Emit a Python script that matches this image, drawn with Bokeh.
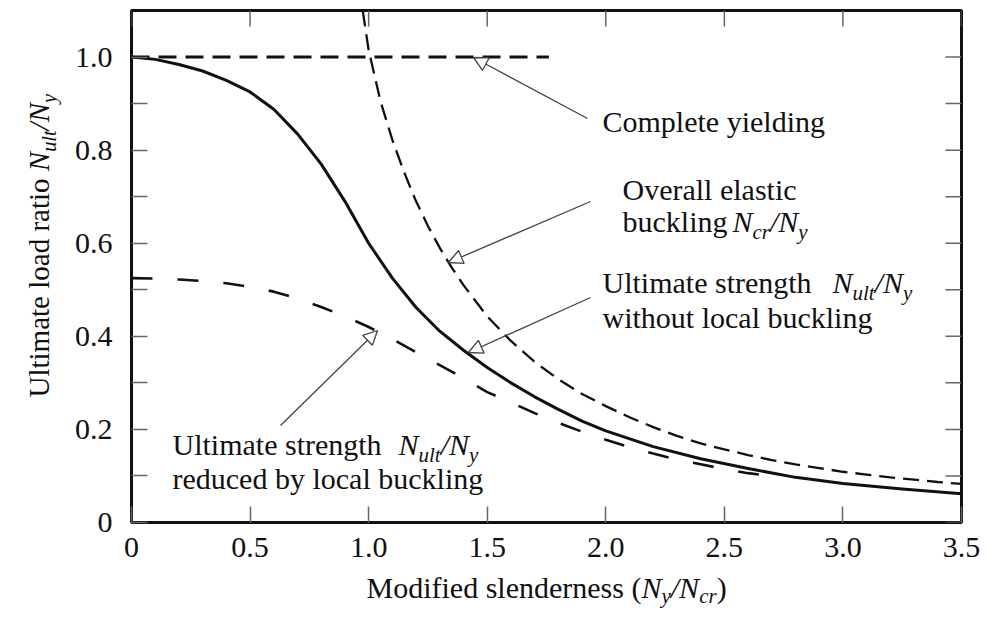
import math
from bokeh.plotting import figure
from bokeh.layouts import row, column
from bokeh.models import Label, Arrow, NormalHead, FixedTicker, Range1d
from bokeh.embed import file_html
from bokeh.resources import INLINE

# ---------------- data ----------------
x_ticks = [0, 0.5, 1.0, 1.5, 2.0, 2.5, 3.0, 3.5]
x_tick_labels = ["0", "0.5", "1.0", "1.5", "2.0", "2.5", "3.0", "3.5"]
y_ticks = [0, 0.2, 0.4, 0.6, 0.8, 1.0]
y_tick_labels = ["0", "0.2", "0.4", "0.6", "0.8", "1.0"]
y_minor_ticks = [0.1, 0.3, 0.5, 0.7, 0.9]

# complete yielding
yield_x = [0.0, 1.76]
yield_y = [1.0, 1.0]

# overall elastic buckling Ncr/Ny
elastic_x = [0.975, 1.0, 1.05, 1.1, 1.15, 1.2, 1.25, 1.3, 1.35, 1.4, 1.5, 1.6, 1.7,
             1.8, 1.9, 2.0, 2.1, 2.2, 2.3, 2.4, 2.5, 2.6, 2.7, 2.8, 2.9, 3.0, 3.1,
             3.2, 3.3, 3.4, 3.5]
elastic_y = [1.1, 1.015, 0.905, 0.822, 0.752, 0.69, 0.637, 0.59, 0.548, 0.51, 0.443,
             0.39, 0.345, 0.308, 0.276, 0.25, 0.226, 0.205, 0.186, 0.17, 0.157, 0.145,
             0.134, 0.125, 0.117, 0.109, 0.103, 0.097, 0.092, 0.087, 0.083]

# ultimate strength without local buckling
ult_x = [0.0, 0.1, 0.2, 0.3, 0.4, 0.5, 0.6, 0.7, 0.8, 0.9, 1.0, 1.1, 1.2, 1.3, 1.4,
         1.5, 1.6, 1.7, 1.8, 1.9, 2.0, 2.2, 2.4, 2.6, 2.8, 3.0, 3.25, 3.5]
ult_y = [1.0, 0.995, 0.984, 0.97, 0.95, 0.925, 0.888, 0.835, 0.77, 0.69, 0.6, 0.525,
         0.462, 0.411, 0.37, 0.333, 0.30, 0.27, 0.243, 0.218, 0.197, 0.163, 0.137,
         0.116, 0.097, 0.084, 0.072, 0.062]

# ultimate strength reduced by local buckling
local_x = [0.0, 0.1, 0.2, 0.3, 0.4, 0.5, 0.6, 0.7, 0.8, 0.9, 1.0, 1.1, 1.2, 1.3, 1.4,
           1.5, 1.6, 1.7, 1.8, 1.9, 2.0, 2.1, 2.2, 2.3, 2.4, 2.5, 2.6, 2.72]
local_y = [0.525, 0.524, 0.522, 0.519, 0.514, 0.506, 0.496, 0.481, 0.463, 0.443, 0.42,
           0.394, 0.366, 0.338, 0.31, 0.28, 0.258, 0.235, 0.214, 0.195, 0.178, 0.162,
           0.148, 0.135, 0.125, 0.115, 0.106, 0.098]

# ---------------- layout constants (canvas pixels) ----------------
X0, X1 = 0.0, 3.5
Y0, Y1 = 0.0, 1.1
TOTAL_W, TOTAL_H = 980, 608
LW = 70                      # width of the left strip holding the y title
MW = TOTAL_W - LW            # main figure width
MH = 570                     # main figure height
BH = TOTAL_H - MH            # bottom strip holding the x title
FL, FR, FT, FB = 131, 961, 10, 522   # frame edges in canvas pixels

INK = "#111111"
TICK = "#666666"
SERIF = "Liberation Serif"
BASE_CORR = 0.36             # em shift that puts the drawn baseline where intended

# ---------------- main figure ----------------
p = figure(width=MW, height=MH, output_backend="svg", toolbar_location=None,
           x_range=Range1d(X0, X1), y_range=Range1d(Y0, Y1),
           min_border_left=FL - LW, min_border_right=TOTAL_W - FR,
           min_border_top=FT, min_border_bottom=MH - FB)
p.xgrid.grid_line_color = None
p.ygrid.grid_line_color = None
p.outline_line_color = INK
p.outline_line_width = 3
p.background_fill_color = "white"
p.border_fill_color = "white"

def style_axis(ax, ticker, labels, standoff):
    ax.ticker = ticker
    ax.axis_line_color = None
    ax.major_tick_in = 16
    ax.major_tick_out = 0
    ax.minor_tick_in = 16
    ax.minor_tick_out = 0
    ax.major_tick_line_color = TICK
    ax.minor_tick_line_color = TICK
    ax.major_tick_line_width = 1.5
    ax.minor_tick_line_width = 1.5
    ax.major_label_text_font = SERIF
    ax.major_label_text_font_size = "30px"
    ax.major_label_text_color = INK
    ax.major_label_overrides = labels
    ax.major_label_standoff = standoff

style_axis(p.xaxis[0], FixedTicker(ticks=x_ticks, minor_ticks=[]),
           {t: s for t, s in zip(x_ticks, x_tick_labels)}, 15)
style_axis(p.yaxis[0], FixedTicker(ticks=y_ticks, minor_ticks=y_minor_ticks),
           {t: s for t, s in zip(y_ticks, y_tick_labels)}, 19)

# ticks on the top and right edges (inward)
p.ray(x=x_ticks, y=[Y1] * len(x_ticks), length=16, length_units="screen",
      angle=-math.pi / 2, line_color=TICK, line_width=1.5)
right_ticks = sorted(y_ticks + y_minor_ticks)
p.ray(x=[X1] * len(right_ticks), y=right_ticks, length=16, length_units="screen",
      angle=math.pi, line_color=TICK, line_width=1.5)

# ---------------- curves ----------------
p.line(yield_x, yield_y, line_color=INK, line_width=3, line_dash="18 9")
p.line(elastic_x, elastic_y, line_color=INK, line_width=2.3, line_dash="16 8")
p.line(local_x, local_y, line_color=INK, line_width=2.6, line_dash="21 25")
p.line(ult_x, ult_y, line_color=INK, line_width=3, line_join="round")

# ---------------- text helpers ----------------
def dx(px):
    return X0 + (px - FL) / (FR - FL) * (X1 - X0)

def dy(py):
    return Y0 + (FB - py) / (FB - FT) * (Y1 - Y0)

W_REG = {' ': 250, '(': 333, ')': 333, '/': 278, '.': 250, 'a': 444, 'b': 500,
         'c': 444, 'd': 500, 'e': 444, 'f': 333, 'g': 500, 'h': 500, 'i': 278,
         'k': 500, 'l': 278, 'm': 778, 'n': 500, 'o': 500, 'p': 500, 'r': 333,
         's': 389, 't': 278, 'u': 500, 'v': 500, 'w': 722, 'y': 500, 'C': 667,
         'M': 889, 'O': 722, 'U': 722, 'N': 722}
W_IT = {'N': 667, 'u': 500, 'l': 278, 't': 278, 'y': 444, 'c': 444, 'r': 389, '/': 278}

def tw(s, size, italic):
    tab = W_IT if italic else W_REG
    return sum(tab.get(ch, 500) for ch in s) * size / 1000.0

def rich(fig, segments, x_px, y_px, size, vertical=False, mapx=None, mapy=None,
         sub_drop=0.22):
    """segments: (text, kind); kind 'r' roman, 'i' italic, 's' italic subscript."""
    pos = 0.0
    for text, kind in segments:
        italic = kind in ("i", "s")
        fs = size * 0.7 if kind == "s" else size
        shift = (size * sub_drop if kind == "s" else 0.0) - BASE_CORR * fs
        if vertical:
            lx, ly, ang = x_px + shift, y_px - pos, math.pi / 2
        else:
            lx, ly, ang = x_px + pos, y_px + shift, 0.0
        fig.add_layout(Label(x=mapx(lx), y=mapy(ly), text=text, text_font=SERIF,
                             text_font_style="italic" if italic else "normal",
                             text_font_size=f"{fs:.1f}px", text_color=INK,
                             text_align="left", text_baseline="alphabetic",
                             angle=ang))
        pos += tw(text, fs, italic)

def main_text(segments, x_px, y_px, size=30):
    rich(p, segments, x_px, y_px, size, mapx=dx, mapy=dy)

MATH_ULT = [("N", "i"), ("ult", "s"), ("/", "i"), ("N", "i"), ("y", "s")]
MATH_CR = [("N", "i"), ("cr", "s"), ("/", "i"), ("N", "i"), ("y", "s")]

main_text([("Complete yielding", "r")], 602, 132)
main_text([("Overall elastic", "r")], 622, 200)
main_text([("buckling", "r")], 622, 232)
main_text(MATH_CR, 732, 232)
main_text([("Ultimate strength", "r")], 602, 293)
main_text(MATH_ULT, 832, 293)
main_text([("without local buckling", "r")], 602, 328)
main_text([("Ultimate strength", "r")], 172, 455)
main_text(MATH_ULT, 398, 455)
main_text([("reduced by local buckling", "r")], 172, 489)

# arrows (tail -> tip, canvas pixels)
arrows = [((587, 118), (473, 57)),
          ((590, 201), (448, 262)),
          ((590, 297), (468, 352)),
          ((280, 425), (377, 330))]
for (tx, ty), (hx, hy) in arrows:
    p.add_layout(Arrow(x_start=dx(tx), y_start=dy(ty), x_end=dx(hx), y_end=dy(hy),
                       line_color="#444444", line_width=1.3,
                       end=NormalHead(size=14, fill_color="white",
                                      line_color="#444444", line_width=1.3)))

# ---------------- left strip: y title ----------------
def bare(fig):
    fig.outline_line_color = None
    fig.background_fill_color = "white"
    fig.border_fill_color = "white"
    fig.xgrid.grid_line_color = None
    fig.ygrid.grid_line_color = None
    return fig

left = bare(figure(width=LW, height=TOTAL_H, output_backend="svg", toolbar_location=None,
                   x_range=Range1d(0, LW), y_range=Range1d(TOTAL_H, 0),
                   x_axis_type=None, y_axis_type=None,
                   min_border_left=0, min_border_right=0, min_border_top=0,
                   min_border_bottom=0))
rich(left, [("Ultimate load ratio ", "r")] + MATH_ULT, 49, 397, 29, vertical=True,
     mapx=lambda v: v, mapy=lambda v: v)

# ---------------- bottom strip: x title (frame aligned with the main frame) ----------
bottom = bare(figure(width=MW, height=BH, output_backend="svg", toolbar_location=None,
                     x_range=Range1d(FL, FR), y_range=Range1d(TOTAL_H, MH),
                     x_axis_type=None, y_axis_type=None,
                     min_border_left=FL - LW, min_border_right=TOTAL_W - FR,
                     min_border_top=0, min_border_bottom=0))
rich(bottom, [("Modified slenderness (", "r"), ("N", "i"), ("y", "s"), ("/", "i"),
              ("N", "i"), ("cr", "s"), (")", "r")], 366, 598, 30,
     mapx=lambda v: v, mapy=lambda v: v, sub_drop=0.16)

layout = row(left, column(p, bottom, spacing=0), spacing=0)
open("out.html", "w").write(file_html(layout, INLINE))
